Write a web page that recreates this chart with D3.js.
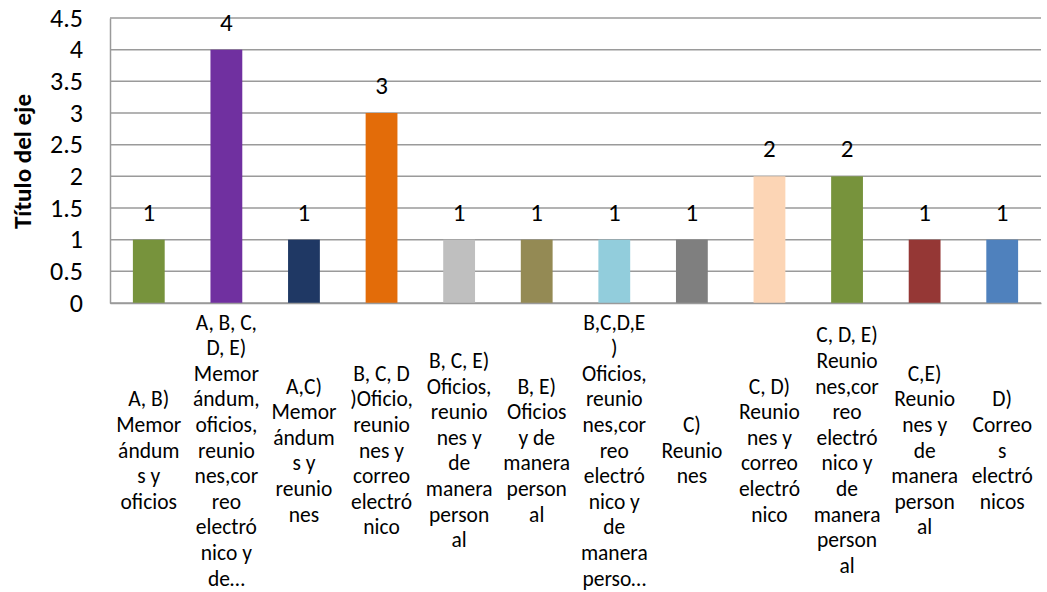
<!DOCTYPE html>
<html>
<head>
<meta charset="utf-8">
<script src="https://cdn.jsdelivr.net/npm/d3@7"></script>
<style>
  html, body { margin: 0; padding: 0; background: #fff; }
  svg { display: block; font-family: Carlito, Calibri, Lato, "Liberation Sans", sans-serif; }
</style>
</head>
<body>
<svg id="chart" width="1047" height="592"></svg>
<script>
// Category labels, already wrapped as they appear under each bar ("\n" = line break)
const categories = [
  "A, B)\nMemor\nándum\ns y\noficios",
  "A, B, C,\nD, E)\nMemor\nándum,\noficios,\nreunio\nnes,cor\nreo\nelectró\nnico y\nde…",
  "A,C)\nMemor\nándum\ns y\nreunio\nnes",
  "B, C, D\n)Oficio,\nreunio\nnes y\ncorreo\nelectró\nnico",
  "B, C, E)\nOficios,\nreunio\nnes y\nde\nmanera\nperson\nal",
  "B, E)\nOficios\ny de\nmanera\nperson\nal",
  "B,C,D,E\n)\nOficios,\nreunio\nnes,cor\nreo\nelectró\nnico y\nde\nmanera\nperso…",
  "C)\nReunio\nnes",
  "C, D)\nReunio\nnes y\ncorreo\nelectró\nnico",
  "C, D, E)\nReunio\nnes,cor\nreo\nelectró\nnico y\nde\nmanera\nperson\nal",
  "C,E)\nReunio\nnes y\nde\nmanera\nperson\nal",
  "D)\nCorreo\ns\nelectró\nnicos"
];
const values = [1, 4, 1, 3, 1, 1, 1, 1, 2, 2, 1, 1];
const barColors = [
  "#77933C", "#7030A0", "#1F3864", "#E36C09", "#BFBFBF", "#948A54",
  "#92CDDC", "#7F7F7F", "#FCD5B5", "#77933C", "#953735", "#4F81BD"
];
const yTicks = [0, 0.5, 1, 1.5, 2, 2.5, 3, 3.5, 4, 4.5];
const yTitle = "Título del eje";

const svg = d3.select("#chart");
const plot = { left: 110, right: 1041, top: 18, bottom: 303 };

const x = d3.scaleBand()
  .domain(d3.range(categories.length))
  .range([plot.left, plot.right])
  .paddingInner(0.59)
  .paddingOuter(0.295);

const y = d3.scaleLinear()
  .domain([0, 4.5])
  .range([plot.bottom, plot.top]);

const gridColor = "#9a9a9a";

// Horizontal gridlines
svg.append("g")
  .selectAll("line")
  .data(yTicks)
  .join("line")
  .attr("x1", plot.left)
  .attr("x2", plot.right)
  .attr("y1", d => y(d))
  .attr("y2", d => y(d))
  .attr("stroke", gridColor)
  .attr("stroke-width", 1.5);

// Y axis with labels
const yAxis = svg.append("g")
  .attr("transform", `translate(${plot.left},0)`)
  .call(d3.axisLeft(y).tickValues(yTicks).tickSize(0).tickPadding(27).tickFormat(d3.format("")));
yAxis.select(".domain").attr("stroke", gridColor).attr("stroke-width", 1.5);
yAxis.selectAll("text")
  .attr("font-size", 26)
  .attr("fill", "#000")
  .attr("font-family", "Carlito, Calibri, Lato, sans-serif");

// Bars
svg.append("g")
  .selectAll("rect")
  .data(values)
  .join("rect")
  .attr("x", (d, i) => x(i))
  .attr("y", d => y(d))
  .attr("width", x.bandwidth())
  .attr("height", d => y(0) - y(d))
  .attr("fill", (d, i) => barColors[i]);

// Value labels above bars
svg.append("g")
  .selectAll("text")
  .data(values)
  .join("text")
  .attr("x", (d, i) => x(i) + x.bandwidth() / 2)
  .attr("y", d => y(d) - 19)
  .attr("text-anchor", "middle")
  .attr("font-size", 25)
  .attr("fill", "#000")
  .text(d => d);

// X axis baseline
const xAxis = svg.append("g")
  .attr("transform", `translate(0,${plot.bottom})`)
  .call(d3.axisBottom(x).tickSize(0).tickFormat(() => ""));
xAxis.select(".domain").attr("stroke", gridColor).attr("stroke-width", 1.5);

// Multi-line category labels, centred vertically on a common line
const lineH = 25.6;
const labelMid = 450;
const catG = svg.append("g");
categories.forEach((c, i) => {
  const lines = c.split("\n");
  const t = catG.append("text")
    .attr("text-anchor", "middle")
    .attr("font-size", 21.5)
    .attr("fill", "#000");
  const y0 = labelMid - (lines.length - 1) / 2 * lineH;
  lines.forEach((ln, k) => {
    t.append("tspan")
      .attr("x", x(i) + x.bandwidth() / 2)
      .attr("y", y0 + k * lineH)
      .attr("dy", "0.35em")
      .text(ln);
  });
});

// Y axis title
svg.append("text")
  .attr("transform", `translate(31,${(plot.top + plot.bottom) / 2 + 1}) rotate(-90)`)
  .attr("text-anchor", "middle")
  .attr("font-size", 25)
  .attr("font-weight", "bold")
  .attr("fill", "#000")
  .text(yTitle);
</script>
</body>
</html>
